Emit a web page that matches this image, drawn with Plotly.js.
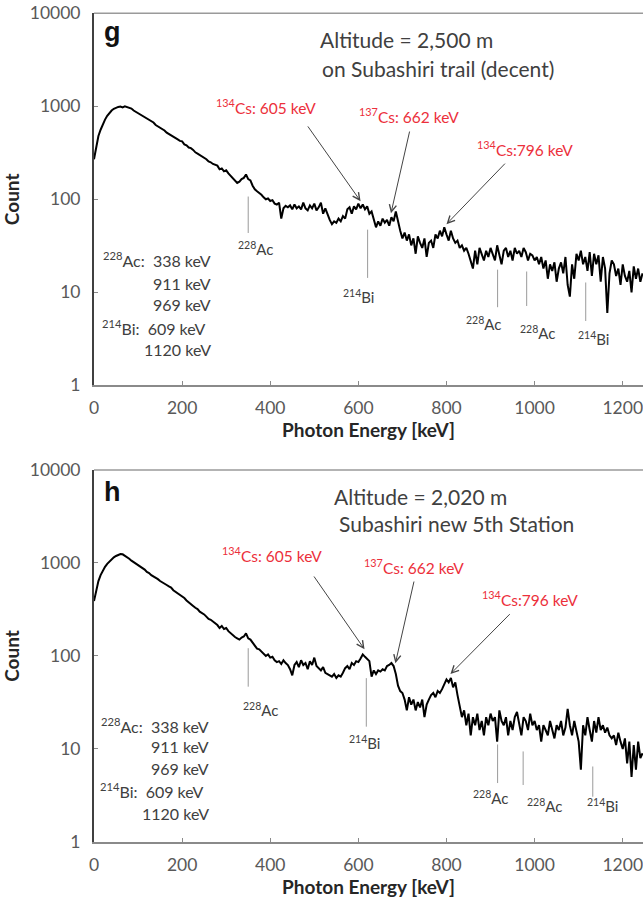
<!DOCTYPE html>
<html><head><meta charset="utf-8">
<script src="https://cdn.plot.ly/plotly-3.0.1.min.js"></script>
<style>html,body{margin:0;padding:0;background:#fff}#chart{width:643px;height:902px}</style>
</head><body><div id="chart"></div>
<script>
// Gamma-ray spectra, one sample every 5 keV starting at 0 keV
const energyStart = 0;
const energyStep = 5;

// Panel g: Altitude = 2,500 m on Subashiri trail (decent)
const countsG = [
270,380,480,560,640,720,790,850,900,940,970,985,995,975,1000,985,960,945,900,870,
840,810,790,760,740,710,690,670,630,610,590,565,550,520,505,490,470,455,440,425,
420,390,380,360,355,340,320,310,300,290,285,270,255,250,240,235,230,210,215,200,
205,190,180,170,160,150,155,165,170,185,165,160,140,128,122,118,112,105,100,102,
96,98,90,88,92,62,80,85,82,86,78,88,80,84,78,92,80,76,86,80,
90,76,82,92,70,80,68,60,54,58,56,62,58,66,62,78,82,70,84,78,
90,80,88,78,84,70,74,62,50,58,52,62,56,60,52,64,58,74,56,46,
38,44,36,42,32,38,26,40,34,30,38,24,34,36,30,42,38,46,40,50,
42,36,46,38,34,36,30,32,28,30,26,22,18,28,20,30,26,22,28,24,
30,26,22,32,26,20,28,30,24,28,22,30,26,28,24,30,27,22,26,25,
22,24,20,24,18,22,14,20,17,21,13,18,21,16,24,12,9,20,14,26,
22,28,20,24,17,27,15,26,20,25,13,24,18,6,16,22,20,15,18,12,
20,15,13,17,10,19,14,18,13,16
];

// Panel h: Altitude = 2,020 m, Subashiri new 5th Station
const countsH = [
390,520,640,740,830,910,980,1040,1100,1150,1190,1230,1250,1240,1200,1150,1110,1060,1020,990,
950,920,880,850,800,780,740,720,690,670,640,615,600,580,560,545,510,490,470,455,
440,420,395,380,360,345,330,320,300,290,280,265,250,245,235,225,215,200,210,195,
200,185,175,168,160,155,150,158,162,175,155,150,138,128,120,118,112,108,100,104,
96,98,90,86,88,82,90,84,80,72,62,80,86,76,90,80,84,72,88,80,
96,78,74,70,76,66,64,62,60,64,58,62,60,66,74,78,72,84,80,88,
86,94,104,98,92,88,60,70,64,70,68,72,70,78,80,84,78,64,48,42,
40,34,26,36,30,34,26,32,28,34,22,30,34,38,40,36,42,40,44,50,
56,52,58,46,52,38,30,22,26,18,24,14,22,18,24,16,20,14,22,18,
24,20,22,12,26,20,18,22,14,20,16,22,25,18,14,22,20,16,24,18,
20,16,18,12,18,16,14,20,16,13,18,16,20,14,17,27,18,14,20,16,
12,6,18,14,22,16,12,20,15,22,16,18,15,17,14,13,14,11,15,12,
10,13,7,12,5,11,6,12,8,9
];

const xTickVals = [0, 200, 400, 600, 800, 1000, 1200];
const yTickVals = [1, 10, 100, 1000, 10000];
const yTickText = ['1', '10', '100', '1000', '10000'];

const FONT = 'Lato, "Open Sans", sans-serif';
const TXT = '#404040';
const RED = '#ec2f3b';

function trace(counts, xa, ya) {
  return {
    type: 'scatter', mode: 'lines',
    x0: energyStart, dx: energyStep, y: counts,
    xaxis: xa, yaxis: ya,
    line: {color: '#000', width: 2},
    hoverinfo: 'x+y', showlegend: false
  };
}

function xAxis(anchor) {
  return {
    anchor: anchor, range: [0, 1246], showgrid: false, zeroline: false,
    showline: true, linecolor: '#8a8a8a', linewidth: 2,
    ticks: 'inside', ticklen: 4, tickwidth: 1, tickcolor: '#8a8a8a',
    tickmode: 'array', tickvals: xTickVals,
    ticklabelstandoff: 6, ticklabeloverflow: 'allow',
    tickfont: {family: FONT, size: 17.5, color: '#595959'},
    title: {text: '<b>Photon Energy [keV]</b>', font: {family: FONT, size: 19, color: '#262626'}, standoff: 5}
  };
}
function yAxis(anchor, domain) {
  return {
    anchor: anchor, domain: domain, type: 'log', range: [0, 4],
    showgrid: false, zeroline: false,
    showline: true, linecolor: '#404040', linewidth: 2,
    ticks: 'inside', ticklen: 4, tickwidth: 1, tickcolor: '#8a8a8a',
    tickmode: 'array', tickvals: yTickVals, ticktext: yTickText,
    ticklabelstandoff: 8,
    tickfont: {family: FONT, size: 17.5, color: '#595959'},
    title: {text: '<b>Count</b>', font: {family: FONT, size: 19, color: '#262626'}, standoff: 6}
  };
}

// helpers building annotations (x in keV, y in log10(count))
function label(xr, yr, x, y, text, opts) {
  return Object.assign({
    xref: xr, yref: yr, x: x, y: y, text: text, showarrow: false,
    xanchor: 'center', yanchor: 'middle',
    font: {family: FONT, size: 14, color: TXT}
  }, opts || {});
}
function arrow(xr, yr, tx, ty, sx, sy, head, color) {
  return {
    xref: xr, yref: yr, axref: xr, ayref: yr,
    x: tx, y: ty, ax: sx, ay: sy, text: '', showarrow: true,
    arrowhead: head, arrowsize: 1.4, arrowwidth: 1, arrowcolor: color, standoff: 0, startstandoff: 0
  };
}

function panelAnnotations(xr, yr, P) {
  const a = [];
  a.push(label(xr, yr, P.letter[0], P.letter[1], '<b>' + P.letter[2] + '</b>',
    {xanchor: 'left', font: {family: '"Liberation Sans", Arial, sans-serif', size: 27, color: '#111'}}));
  P.title.forEach(t => a.push(label(xr, yr, t[0], t[1], t[2], {xanchor: 'left', font: {family: FONT, size: 21, color: TXT}})));
  P.cs.forEach(c => {
    a.push(label(xr, yr, c[0], c[1], c[2], {xanchor: 'left', font: {family: FONT, size: 15.5, color: RED}}));
    a.push(arrow(xr, yr, c[3], c[4], c[5], c[6], 5, '#444'));
  });
  P.marks.forEach(m => {
    a.push(arrow(xr, yr, m[0], m[2], m[0], m[1], 0, '#9a9a9a'));
    a.push(label(xr, yr, m[3], m[4], m[5], {font: {family: FONT, size: 15, color: TXT}}));
  });
  P.list.forEach(l => a.push(label(xr, yr, l[0], l[1], l[2], {xanchor: 'right', font: {family: FONT, size: 16, color: TXT}})));
  return a;
}

const AC = '<sup>228</sup>Ac', BI = '<sup>214</sup>Bi';
const panelG = {
  letter: [18, 3.80, 'g'],
  title: [[508, 3.72, 'Altitude = 2,500 m'], [514, 3.41, 'on Subashiri trail (decent)']],
  cs: [
    [273, 3.00, '<sup>134</sup>Cs: 605 keV', 605, 1.98, 483, 2.80],
    [598, 2.90, '<sup>137</sup>Cs: 662 keV', 674, 1.85, 717, 2.745],
    [864, 2.55, '<sup>134</sup>Cs:796 keV', 800, 1.733, 936, 2.40]
  ],
  marks: [
    [350, 2.046, 1.638, 366, 1.47, AC],
    [621, 1.69, 1.155, 601, 0.96, BI],
    [916, 1.26, 0.84, 885, 0.67, AC],
    [982, 1.24, 0.853, 1006, 0.57, AC],
    [1116, 1.122, 0.692, 1134, 0.50, BI]
  ],
  list: [
    [270, 1.358, '<sup>228</sup>Ac:  338 keV'],
    [270, 1.10, '911 keV'],
    [270, 0.874, '969 keV'],
    [259, 0.627, '<sup>214</sup>Bi:  609 keV'],
    [270, 0.38, '1120 keV']
  ]
};
const panelH = {
  letter: [18, 3.76, 'h'],
  title: [[540, 3.72, 'Altitude = 2,020 m'], [551, 3.42, 'Subashiri new 5th Station']],
  cs: [
    [287, 3.086, '<sup>134</sup>Cs: 605 keV', 614, 2.072, 497, 2.871],
    [608, 2.96, '<sup>137</sup>Cs: 662 keV', 684, 1.921, 727, 2.817],
    [875, 2.62, '<sup>134</sup>Cs:796 keV', 809, 1.806, 947, 2.466]
  ],
  marks: [
    [350, 2.10, 1.67, 378, 1.42, AC],
    [618, 1.778, 1.24, 615, 1.07, BI],
    [916, 1.065, 0.634, 900, 0.48, AC],
    [974, 0.99, 0.613, 1022, 0.39, AC],
    [1132, 0.828, 0.487, 1154, 0.39, BI]
  ],
  list: [
    [266, 1.258, '<sup>228</sup>Ac:  338 keV'],
    [266, 1.025, '911 keV'],
    [266, 0.785, '969 keV'],
    [254, 0.552, '<sup>214</sup>Bi:  609 keV'],
    [266, 0.309, '1120 keV']
  ]
};

const layout = {
  width: 643, height: 902,
  margin: {l: 94, r: 0, t: 0, b: 0},
  paper_bgcolor: '#fff', plot_bgcolor: '#fff',
  showlegend: false,
  xaxis: xAxis('y'),
  yaxis: yAxis('x', [0.5728, 0.98525]),
  xaxis2: xAxis('y2'),
  yaxis2: yAxis('x2', [0.06652, 0.47894]),
  shapes: [
    {type: 'line', xref: 'x domain', yref: 'y domain', x0: 0, x1: 1, y0: 1, y1: 1, line: {color: '#9a9a9a', width: 1.5}},
    {type: 'line', xref: 'x2 domain', yref: 'y2 domain', x0: 0, x1: 1, y0: 1, y1: 1, line: {color: '#9a9a9a', width: 1.5}}
  ],
  annotations: panelAnnotations('x', 'y', panelG).concat(panelAnnotations('x2', 'y2', panelH))
};

Plotly.newPlot('chart', [trace(countsG, 'x', 'y'), trace(countsH, 'x2', 'y2')], layout, {displayModeBar: false, staticPlot: true});
</script>
</body></html>
